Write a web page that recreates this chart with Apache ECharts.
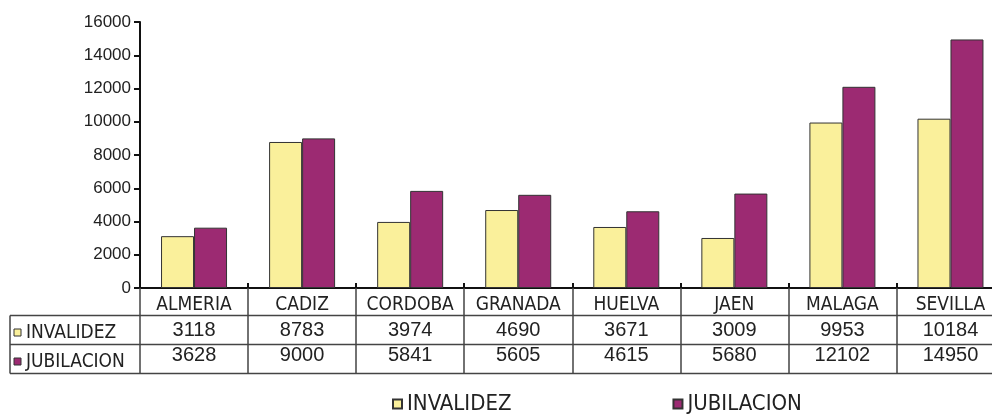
<!DOCTYPE html>
<html>
<head>
<meta charset="utf-8">
<script src="https://cdn.jsdelivr.net/npm/echarts@6/dist/echarts.min.js"></script>
<style>
  html, body { margin: 0; padding: 0; background: #fff; overflow: hidden; }
  /* the original plot runs a little past the right edge of the picture */
  #chart-container { width: 1006px; height: 416px; }
</style>
</head>
<body>
<div id="chart-container"></div>
<script>
var provincias = ['ALMERIA', 'CADIZ', 'CORDOBA', 'GRANADA', 'HUELVA', 'JAEN', 'MALAGA', 'SEVILLA'];
var invalidez = [3118, 8783, 3974, 4690, 3671, 3009, 9953, 10184];
var jubilacion = [3628, 9000, 5841, 5605, 4615, 5680, 12102, 14950];
var seriesNames = ['INVALIDEZ', 'JUBILACION'];
var seriesColors = ['#FAF09B', '#9C2A72'];

var narrow = "'Liberation Sans Narrow', 'Arial Narrow', 'DejaVu Sans Condensed', sans-serif";
var regular = "'Liberation Sans', Arial, sans-serif";

var dom = document.getElementById('chart-container');
var myChart = echarts.init(dom, null, {
  renderer: 'canvas',
  useDirtyRect: false
});

var option;

// table rows under the category axis
function rowAxis(values, margin, showTick) {
  return {
    type: 'category',
    data: provincias,
    position: 'bottom',
    axisLine: { show: false },
    axisTick: {
      show: showTick,
      inside: true,
      interval: 0,
      length: 5,
      lineStyle: { color: '#111', width: 2 }
    },
    axisLabel: {
      interval: 0,
      margin: margin,
      verticalAlign: 'middle',
      color: '#222',
      fontFamily: regular,
      fontSize: 20,
      formatter: function (v, i) { return String(values[i]); }
    }
  };
}

var lineStyle = { stroke: '#444', lineWidth: 1.5 };

option = {
  animation: false,
  grid: {
    left: 140,
    top: 22,
    width: 864.5,
    height: 266
  },
  legend: {
    data: seriesNames,
    left: 392,
    top: 393,
    padding: 0,
    icon: 'rect',
    itemWidth: 9,
    itemHeight: 9,
    itemGap: 161,
    textStyle: {
      fontFamily: narrow,
      fontSize: 22,
      color: '#222'
    }
  },
  xAxis: [
    {
      type: 'category',
      data: provincias,
      axisLine: { lineStyle: { color: '#111', width: 2 } },
      axisTick: {
        show: true,
        interval: 0,
        length: 85,
        lineStyle: { color: '#444', width: 1.5 }
      },
      axisLabel: {
        interval: 0,
        margin: 17,
        verticalAlign: 'middle',
        color: '#222',
        fontFamily: narrow,
        fontSize: 19
      }
    },
    rowAxis(invalidez, 42, true),
    rowAxis(jubilacion, 67.5, false)
  ],
  yAxis: {
    type: 'value',
    min: 0,
    max: 16000,
    interval: 2000,
    axisLine: { show: true, lineStyle: { color: '#111', width: 2 } },
    axisTick: { show: true, length: 6, lineStyle: { color: '#111', width: 2 } },
    splitLine: { show: false },
    axisLabel: {
      margin: 9,
      color: '#222',
      fontFamily: regular,
      fontSize: 17,
      formatter: function (v) { return String(v); }
    }
  },
  series: [
    {
      name: seriesNames[0],
      type: 'bar',
      data: invalidez,
      barWidth: 33,
      barGap: '0%',
      itemStyle: { color: seriesColors[0], borderColor: '#333', borderWidth: 1 }
    },
    {
      name: seriesNames[1],
      type: 'bar',
      data: jubilacion,
      barWidth: 33,
      barGap: '0%',
      itemStyle: { color: seriesColors[1], borderColor: '#333', borderWidth: 1 }
    }
  ],
  graphic: [
    { type: 'line', shape: { x1: 10, y1: 315.5, x2: 1006, y2: 315.5 }, style: lineStyle },
    { type: 'line', shape: { x1: 10, y1: 344.5, x2: 1006, y2: 344.5 }, style: lineStyle },
    { type: 'line', shape: { x1: 10, y1: 373.5, x2: 1006, y2: 373.5 }, style: lineStyle },
    { type: 'line', shape: { x1: 10, y1: 315.5, x2: 10, y2: 373.5 }, style: lineStyle },
    { type: 'rect', shape: { x: 14, y: 329, width: 7, height: 7 },
      style: { fill: seriesColors[0], stroke: '#333', lineWidth: 1 } },
    { type: 'rect', shape: { x: 14, y: 358, width: 7, height: 7 },
      style: { fill: seriesColors[1], stroke: '#333', lineWidth: 1 } },
    { type: 'text', x: 26, y: 333,
      style: { text: seriesNames[0], fill: '#222', font: '19px ' + narrow, verticalAlign: 'middle' } },
    { type: 'text', x: 26, y: 362,
      style: { text: seriesNames[1], fill: '#222', font: '19px ' + narrow, verticalAlign: 'middle' } }
  ]
};

if (option && typeof option === 'object') {
  myChart.setOption(option);
}

window.addEventListener('resize', myChart.resize);
</script>
</body>
</html>
